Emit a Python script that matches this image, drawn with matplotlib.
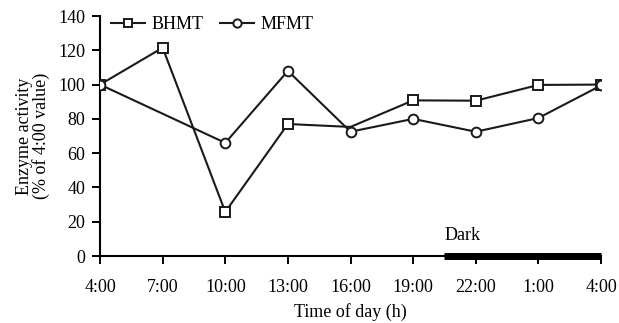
import numpy as np
import matplotlib.pyplot as plt

plt.rcParams['font.family'] = ['Liberation Serif', 'DejaVu Serif']

times = ["4:00", "7:00", "10:00", "13:00", "16:00", "19:00", "22:00", "1:00", "4:00"]
bhmt = [100, 121.5, 25.7, 77, 75.3, 90.8, 90.6, 99.8, 100]
mfmt = [100, None, 66, 108, 72.5, 80, 72.5, 80.5, 99.5]
# no BHMT marker shown at 16:00 (hidden under the MFMT circle)
bhmt_marked = [0, 1, 2, 3, 5, 6, 7, 8]
dark_start = 5.5   # about 20:30
dark_end = 8

fig = plt.figure(figsize=(6.19, 3.23), dpi=100)
ax = fig.add_axes([0.1616, 0.2074, 0.8094, 0.7430])

x = np.arange(len(times))
ax.plot(x, bhmt, color='#1a1a1a', lw=1.5, marker='s', ms=6.5, mfc='white',
        mec='#1a1a1a', mew=1.4, markevery=bhmt_marked, label='BHMT', zorder=3)
mx = [i for i, v in enumerate(mfmt) if v is not None]
my = [v for v in mfmt if v is not None]
ax.plot(mx, my, color='#1a1a1a', lw=1.5, marker='o', ms=7, mfc='white',
        mec='#1a1a1a', mew=1.4, label='MFMT', zorder=4)

ax.plot([dark_start, dark_end], [0, 0], color='black', lw=5, solid_capstyle='butt',
        clip_on=False, zorder=5)
ax.text(dark_start, 7, 'Dark', fontsize=13, ha='left', va='bottom')

ax.set_xlim(0, 8)
ax.set_ylim(0, 140)
ax.set_xticks(x)
ax.set_xticklabels(times)
ax.set_yticks(range(0, 141, 20))
ax.tick_params(direction='out', length=5.5, width=1.4, labelsize=13)
ax.tick_params(axis='x', pad=11)
ax.tick_params(axis='y', pad=5)
for s in ['top', 'right']:
    ax.spines[s].set_visible(False)
for s in ['left', 'bottom']:
    ax.spines[s].set_linewidth(1.5)

ax.set_xlabel('Time of day (h)', fontsize=13, labelpad=5)
ax.set_ylabel('Enzyme activity\n(% of 4:00 value)', fontsize=13, labelpad=6,
              linespacing=0.95)

ax.legend(loc='upper left', bbox_to_anchor=(0.0, 1.045), ncol=2, frameon=False,
          fontsize=13, handlelength=1.9, handletextpad=0.35, columnspacing=0.9,
          borderaxespad=0.2, markerscale=0.85)

fig.savefig('out.png')
